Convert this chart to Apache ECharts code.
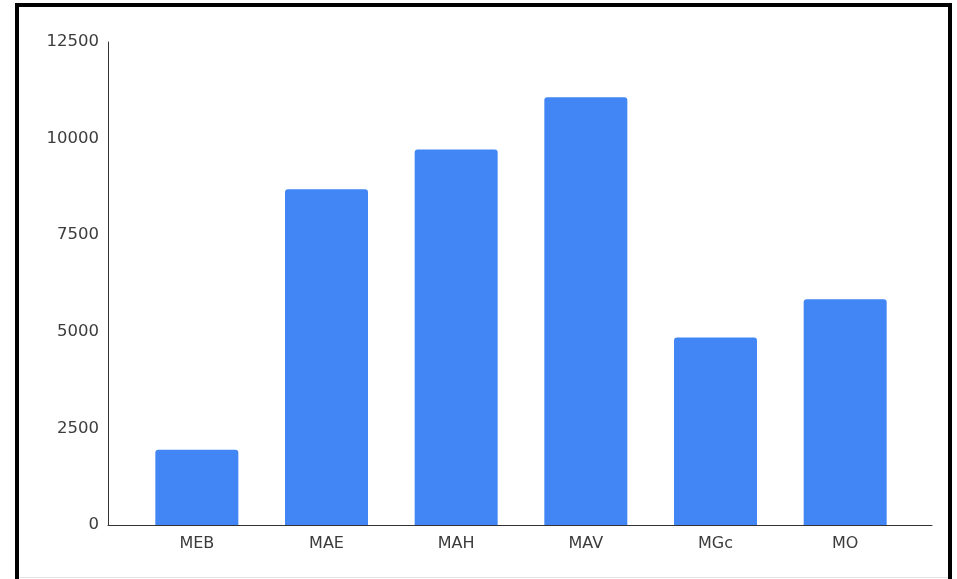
<!DOCTYPE html>
<html>
<head>
<meta charset="utf-8">
<script src="https://cdn.jsdelivr.net/npm/echarts@6/dist/echarts.min.js"></script>
<style>
  html, body { margin: 0; padding: 0; background: #fff; }
  #chart { position: absolute; left: 0; top: 0; width: 957px; height: 579px; }
  #frame { position: absolute; left: 15px; top: 3px; width: 937px; height: 620px;
           border: 4px solid #000; box-sizing: border-box; pointer-events: none; }
  #edge { position: absolute; left: 19px; top: 577px; width: 929px; height: 1px; background: #e4e4e4; }
</style>
</head>
<body>
<div id="chart"></div>
<div id="frame"></div>
<div id="edge"></div>
<script>
// data
var categories = ['MEB', 'MAE', 'MAH', 'MAV', 'MGc', 'MO'];
var values = [1950, 8690, 9720, 11070, 4850, 5840];
var yMax = 12500;
var yStep = 2500;

var labelFont = 'DejaVu Sans, sans-serif';

var chart = echarts.init(document.getElementById('chart'));
chart.setOption({
  animation: false,
  grid: [
    // outer grid: axis lines + y labels
    { left: 108, right: 25, top: 42, bottom: 54 },
    // inner grid: bars, narrower so bars sit inside the axis ends
    { left: 132, right: 47, top: 42, bottom: 54 }
  ],
  xAxis: [{
    gridIndex: 0,
    type: 'category',
    data: [''],
    axisLine: { show: true, lineStyle: { color: '#333', width: 1 } },
    axisTick: { show: false },
    axisLabel: { show: false }
  }, {
    gridIndex: 1,
    type: 'category',
    data: categories,
    axisLine: { show: false },
    axisTick: { show: false },
    axisLabel: { color: '#3c3c3c', fontSize: 16, fontFamily: labelFont, margin: 11 }
  }],
  yAxis: [{
    gridIndex: 0,
    type: 'value',
    min: 0,
    max: yMax,
    interval: yStep,
    axisLine: { show: true, lineStyle: { color: '#333', width: 1 } },
    axisTick: { show: false },
    splitLine: { show: false },
    axisLabel: {
      color: '#3c3c3c', fontSize: 16.5, fontFamily: labelFont, margin: 9,
      formatter: function (v) { return String(v); }
    }
  }, {
    gridIndex: 1,
    type: 'value',
    min: 0,
    max: yMax,
    interval: yStep,
    show: false
  }],
  series: [{
    type: 'bar',
    xAxisIndex: 1,
    yAxisIndex: 1,
    data: values,
    barWidth: 83,
    itemStyle: { color: '#4285f4', borderRadius: [3, 3, 0, 0] }
  }]
});
</script>
</body>
</html>
